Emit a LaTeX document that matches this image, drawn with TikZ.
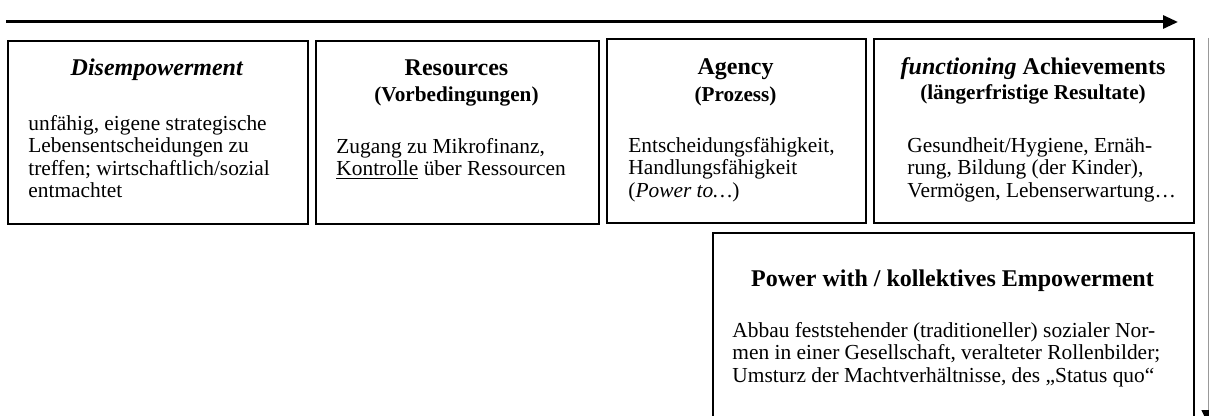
\documentclass[tikz,border=0pt]{standalone}
\usepackage{fontspec}
\setmainfont{Liberation Serif}
\usetikzlibrary{arrows.meta}
\begin{document}
\begin{tikzpicture}[x=0.5pt,y=-0.5pt,
  box/.style={draw=black, line width=1.2pt, inner sep=0pt, anchor=north west},
  ttl/.style={anchor=base, inner sep=0pt, font=\fontsize{12}{13}\selectfont\bfseries},
  sub/.style={anchor=base, inner sep=0pt, font=\fontsize{10.6}{11}\selectfont\bfseries},
  body/.style={anchor=north west, inner sep=0pt, align=left, font=\fontsize{10.7}{11.2}\selectfont},
  flow/.style={line width=1.5pt, -{Triangle[length=7.5pt,width=6.5pt]}},
  side/.style={draw=gray!80, line width=0.5pt, -{Triangle[length=7pt,width=6.5pt,color=black]}}]
\useasboundingbox (0,0) rectangle (1209,416);
% boxes
\node[box, minimum width=150pt, minimum height=91.5pt] (b1) at (7,40) {};
\node[box, minimum width=141.5pt, minimum height=91.5pt] (b2) at (315,40) {};
\node[box, minimum width=129.5pt, minimum height=92pt] (b3) at (606,38) {};
\node[box, minimum width=160pt, minimum height=92pt] (b4) at (873,38) {};
\node[box, minimum width=240.5pt, minimum height=104pt] (b5) at (712,232) {};
% titles
\node[ttl] (t1) at (157,76) {\textit{Disempowerment}};
\node[ttl] (t2) at (456.5,76) {Resources};
\node[sub] (s2) at (456.5,102) {(Vorbedingungen)};
\node[ttl] (t3) at (735.5,75) {Agency};
\node[sub] (s3) at (735.5,102) {(Prozess)};
\node[ttl] (t4) at (1033,75) {\textit{functioning} Achievements};
\node[sub] (s4) at (1033,100) {(längerfristige Resultate)};
\node[ttl] (t5) at (952.5,287) {Power with / kollektives Empowerment};
% bodies
\node[body] (x1) at (28,115) {unfähig, eigene strategische\\Lebensentscheidungen zu\\treffen; wirtschaftlich/sozial\\entmachtet};
\node[body] (x2) at (336,138) {Zugang zu Mikrofinanz,\\\underline{Kontrolle} über Ressourcen};
\node[body] (x3) at (628,137) {Entscheidungsfähigkeit,\\Handlungsfähigkeit\\(\textit{Power to…})};
\node[body] (x4) at (907,137) {Gesundheit/Hygiene, Ernäh-\\rung, Bildung (der Kinder),\\Vermögen, Lebenserwartung…};
\node[body] (x5) at (732,322) {Abbau feststehender (traditioneller) sozialer Nor-\\men in einer Gesellschaft, veralteter Rollenbilder;\\Umsturz der Machtverhältnisse, des „Status quo“};
% arrows
\coordinate (a0) at (6,22);
\coordinate (a1) at (1178,22);
\draw[flow] (a0) -- (a1);
\coordinate (v0) at (1208,38);
\coordinate (v1) at (1208,424);
\draw[side] (v0) -- (v1);
\end{tikzpicture}
\end{document}
